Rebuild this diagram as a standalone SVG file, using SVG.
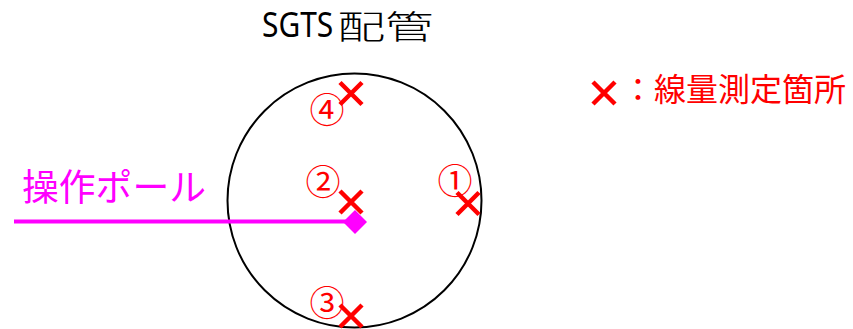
<svg xmlns="http://www.w3.org/2000/svg" width="853" height="329" viewBox="0 0 853 329">
<style>
.cjk{font-family:"Noto Sans CJK JP","Noto Sans",sans-serif}
.red{fill:#FF0000}
.num{font-size:35px;text-anchor:middle}
.x{stroke:#FF0000;stroke-width:4.5;fill:none}
</style>
<defs>
<path id="cross" d="M-11,-11L11,11M11,-11L-11,11"/>
</defs>
<rect width="853" height="329" fill="#fff"/>
<g id="title">
<text transform="translate(262,37) scale(0.88,1)" font-family="'Noto Sans',sans-serif" font-size="34">SGTS</text>
<text class="cjk" transform="translate(337,39) scale(1.46,1)" font-size="33" font-weight="300">配管</text>
</g>
<g id="pipe">
<circle cx="354.5" cy="200.5" r="127" fill="none" stroke="#000" stroke-width="2"/>
</g>
<g id="connectors">
<line x1="14" y1="221.5" x2="350" y2="221.5" stroke="#FF00FF" stroke-width="4"/>
</g>
<g id="pole">
<polygon points="355,210 367,222 355,234 343,222" fill="#FF00FF"/>
<text class="cjk" x="22" y="201" font-size="37" fill="#FF00FF" textLength="184" lengthAdjust="spacingAndGlyphs">操作ポール</text>
</g>
<g id="p1">
<use href="#cross" class="x" x="468" y="203.5"/>
<text class="cjk red num" x="455" y="194.3">①</text>
</g>
<g id="p2">
<use href="#cross" class="x" x="351" y="202"/>
<text class="cjk red num" x="323" y="194.8">②</text>
</g>
<g id="p3">
<use href="#cross" class="x" x="351" y="316"/>
<text class="cjk red num" x="327" y="316.3">③</text>
</g>
<g id="p4">
<use href="#cross" class="x" x="351" y="93.5"/>
<text class="cjk red num" x="327" y="123.3">④</text>
</g>
<g id="legend">
<use href="#cross" class="x" x="604" y="93"/>
<text class="cjk red" x="622" y="101" font-size="32">：線量測定箇所</text>
</g>
</svg>
